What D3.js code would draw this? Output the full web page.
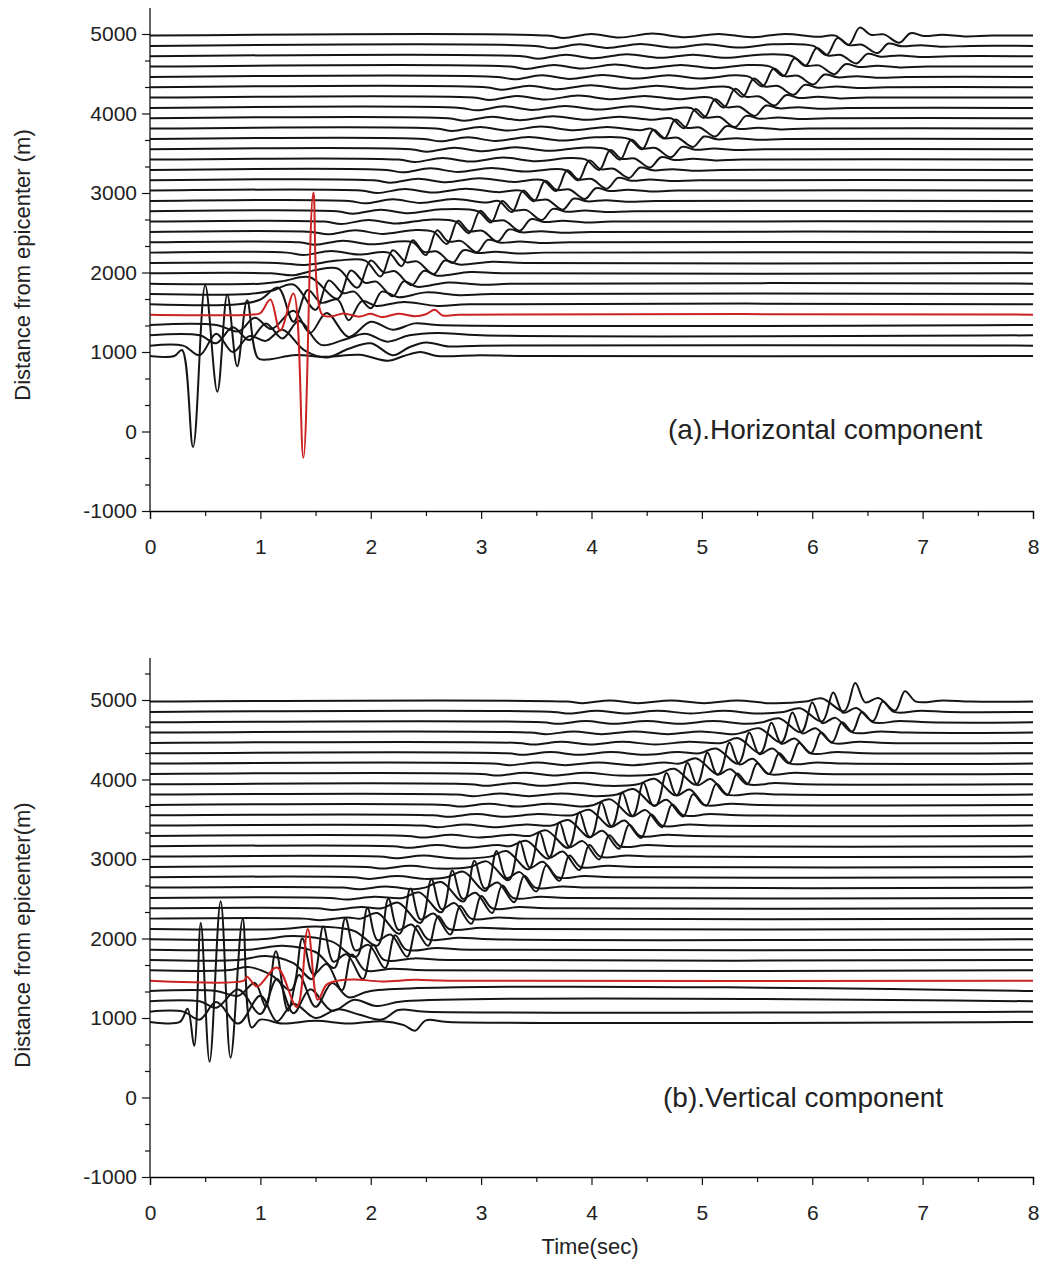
<!DOCTYPE html>
<html>
<head>
<meta charset="utf-8">
<script src="https://cdn.jsdelivr.net/npm/d3@7/dist/d3.min.js"></script>
<style>
  body { margin: 0; background: #fff; }
  svg text { font-family: "Liberation Sans", Arial, sans-serif; fill: #222; }
</style>
</head>
<body>
<svg id="chart" width="1043" height="1270"></svg>
<script>
// station offsets (m), one trace each, bottom to top
const distances = [950, 1080, 1210, 1340, 1470, 1600, 1730, 1860, 1990, 2120, 2250, 2380, 2510, 2640, 2770, 2900,
    3030, 3160, 3290, 3420, 3550, 3680, 3810, 3940, 4070, 4200, 4330, 4460, 4590, 4720, 4850, 4980];
const redTrace = 4;
const timeTicks = [0, 1, 2, 3, 4, 5, 6, 7, 8];
const distTicks = [-1000, 0, 1000, 2000, 3000, 4000, 5000];

// (a) horizontal component: [time, amplitude in m, time, amplitude, ...] per trace
const horizTraces = [
    [0,0, 0.22,0, 0.29,75, 0.39,-1145, 0.50,890, 0.61,-450, 0.70,770, 0.79,-130, 0.88,700, 0.98,-30, 1.09,-40, 1.3,10, 1.6,-10, 1.9,15, 2.16,-60, 2.3,0, 2.45,50, 2.6,0, 3.0,10, 3.4,0, 8,0],
    [0,0, 0.3,0, 0.45,-120, 0.6,150, 0.75,-80, 0.9,120, 1.05,60, 1.2,200, 1.4,-60, 1.6,-150, 1.8,-40, 2.0,30, 2.2,-120, 2.35,-20, 2.5,40, 2.7,-10, 3.0,0, 8,0],
    [0,0, 0.45,0, 0.6,-100, 0.75,100, 0.9,-60, 1.05,150, 1.2,-40, 1.35,180, 1.55,-120, 1.75,-60, 1.95,20, 2.15,-80, 2.35,0, 2.6,30, 3.0,0, 8,0],
    [0,0, 0.6,0, 0.8,-80, 0.95,90, 1.1,-50, 1.3,180, 1.45,-100, 1.6,150, 1.8,-150, 2.0,40, 2.2,-60, 2.4,20, 2.6,0, 8,0],
    [0,0, 0.9,0, 1.0,20, 1.09,190, 1.18,-200, 1.30,265, 1.39,-1800, 1.48,1535, 1.56,0, 1.65,-20, 1.75,15, 1.9,-25, 2.0,10, 2.1,-30, 2.25,10, 2.4,-20, 2.5,5, 2.58,60, 2.65,-10, 2.8,0, 8,0],
    [0,0, 0.8,0, 1.0,60, 1.16,210, 1.3,-220, 1.43,180, 1.55,20, 1.7,60, 1.8,-200, 1.92,40, 2.05,-20, 2.3,30, 2.6,-20, 2.9,0, 8,0],
    [0,0, 0.9,0, 1.1,40, 1.3,120, 1.5,-200, 1.62,170, 1.75,10, 1.85,30, 2.0,-180, 2.1,30, 2.25,-40, 2.5,20, 2.8,-15, 3.1,0, 8,0],
    [0,0, 1.0,0, 1.2,30, 1.45,80, 1.7,-190, 1.82,165, 1.95,10, 2.05,25, 2.2,-160, 2.3,30, 2.42,-40, 2.7,15, 3.0,-15, 3.3,0, 8,0],
    [0,0, 1.1,0, 1.3,-25, 1.5,40, 1.7,60, 1.88,-180, 2.0,160, 2.12,10, 2.22,25, 2.37,-150, 2.48,30, 2.6,-30, 2.9,15, 3.2,0, 8,0],
    [0,0, 1.15,0, 1.4,-25, 1.7,30, 1.95,30, 2.09,-170, 2.2,160, 2.32,10, 2.42,20, 2.57,-140, 2.67,30, 2.8,-20, 3.1,15, 3.4,0, 8,0],
    [0,0, 1.24,0, 1.39,-30, 1.64,20, 1.89,-25, 2.16,0, 2.28,-170, 2.38,155, 2.48,10, 2.60,15, 2.74,-130, 2.84,30, 2.96,-5, 3.13,10, 3.33,-10, 3.58,0, 8,0],
    [0,0, 1.35,0, 1.50,-30, 1.75,20, 2.00,-25, 2.38,0, 2.50,-160, 2.60,150, 2.70,10, 2.82,15, 2.96,-125, 3.06,30, 3.18,-5, 3.35,10, 3.55,-10, 3.80,0, 8,0],
    [0,0, 1.46,0, 1.61,-30, 1.86,20, 2.11,-25, 2.41,25, 2.57,0, 2.69,-150, 2.79,140, 2.89,10, 3.01,15, 3.15,-120, 3.25,30, 3.37,-5, 3.54,10, 3.74,-10, 3.99,0, 8,0],
    [0,0, 1.58,0, 1.73,-30, 1.98,20, 2.23,-25, 2.53,25, 2.77,0, 2.89,-145, 2.99,135, 3.09,10, 3.21,15, 3.35,-115, 3.45,30, 3.57,-5, 3.74,10, 3.94,-10, 4.19,0, 8,0],
    [0,0, 1.69,0, 1.84,-30, 2.09,20, 2.34,-25, 2.64,25, 2.97,0, 3.09,-140, 3.19,130, 3.29,10, 3.41,15, 3.55,-110, 3.65,30, 3.77,-5, 3.94,10, 4.14,-10, 4.39,0, 8,0],
    [0,0, 1.80,0, 1.95,-30, 2.20,20, 2.45,-25, 2.75,25, 3.05,-20, 3.16,0, 3.28,-140, 3.38,130, 3.48,10, 3.60,15, 3.74,-110, 3.84,30, 3.96,-5, 4.13,10, 4.33,-10, 4.58,0, 8,0],
    [0,0, 1.91,0, 2.06,-30, 2.31,20, 2.56,-25, 2.86,25, 3.16,-20, 3.36,0, 3.48,-135, 3.58,125, 3.68,10, 3.80,15, 3.94,-105, 4.04,30, 4.16,-5, 4.33,10, 4.53,-10, 4.78,0, 8,0],
    [0,0, 2.03,0, 2.18,-30, 2.43,20, 2.68,-25, 2.98,25, 3.28,-20, 3.56,0, 3.68,-135, 3.78,125, 3.88,10, 4.00,15, 4.14,-105, 4.24,30, 4.36,-5, 4.53,10, 4.73,-10, 4.98,0, 8,0],
    [0,0, 2.14,0, 2.29,-30, 2.54,20, 2.79,-25, 3.09,25, 3.39,-20, 3.76,0, 3.88,-130, 3.98,120, 4.08,10, 4.20,15, 4.34,-100, 4.44,30, 4.56,-5, 4.73,10, 4.93,-10, 5.18,0, 8,0],
    [0,0, 2.25,0, 2.40,-30, 2.65,20, 2.90,-25, 3.20,25, 3.50,-20, 3.80,20, 3.95,0, 4.07,-130, 4.17,120, 4.27,10, 4.39,15, 4.53,-100, 4.63,30, 4.75,-5, 4.92,10, 5.12,-10, 5.37,0, 8,0],
    [0,0, 2.36,0, 2.51,-30, 2.76,20, 3.01,-25, 3.31,25, 3.61,-20, 3.91,20, 4.14,0, 4.26,-130, 4.36,120, 4.46,10, 4.58,15, 4.72,-100, 4.82,30, 4.94,-5, 5.11,10, 5.31,-10, 5.56,0, 8,0],
    [0,0, 2.48,0, 2.63,-30, 2.88,20, 3.13,-25, 3.43,25, 3.73,-20, 4.03,20, 4.34,0, 4.46,-130, 4.56,115, 4.66,10, 4.78,15, 4.92,-100, 5.02,30, 5.14,-5, 5.31,10, 5.51,-10, 5.76,0, 8,0],
    [0,0, 2.59,0, 2.74,-30, 2.99,20, 3.24,-25, 3.54,25, 3.84,-20, 4.14,20, 4.44,-20, 4.54,0, 4.66,-125, 4.76,115, 4.86,10, 4.98,15, 5.12,-100, 5.22,30, 5.34,-5, 5.51,10, 5.71,-10, 5.96,0, 8,0],
    [0,0, 2.70,0, 2.85,-30, 3.10,20, 3.35,-25, 3.65,25, 3.95,-20, 4.25,20, 4.55,-20, 4.72,0, 4.84,-125, 4.94,115, 5.04,10, 5.16,15, 5.30,-110, 5.40,30, 5.52,-5, 5.69,10, 5.89,-10, 6.14,0, 8,0],
    [0,0, 2.81,0, 2.96,-30, 3.21,20, 3.46,-25, 3.76,25, 4.06,-20, 4.36,20, 4.66,-20, 4.90,0, 5.02,-125, 5.12,110, 5.22,10, 5.34,15, 5.48,-100, 5.58,30, 5.70,-5, 5.87,10, 6.07,-10, 6.32,0, 8,0],
    [0,0, 2.93,0, 3.08,-30, 3.33,20, 3.58,-25, 3.88,25, 4.18,-20, 4.48,20, 4.78,-20, 5.08,0, 5.20,-125, 5.30,110, 5.40,10, 5.52,15, 5.66,-100, 5.76,30, 5.88,-5, 6.05,10, 6.25,-10, 6.50,0, 8,0],
    [0,0, 3.04,0, 3.19,-30, 3.44,20, 3.69,-25, 3.99,25, 4.29,-20, 4.59,20, 4.89,-20, 5.25,0, 5.37,-120, 5.47,110, 5.57,10, 5.69,15, 5.83,-95, 5.93,30, 6.05,-5, 6.22,10, 6.42,-10, 6.67,0, 8,0],
    [0,0, 3.15,0, 3.30,-30, 3.55,20, 3.80,-25, 4.10,25, 4.40,-20, 4.70,20, 5.00,-20, 5.30,20, 5.43,0, 5.55,-120, 5.65,105, 5.75,10, 5.87,15, 6.01,-95, 6.11,30, 6.23,-5, 6.40,10, 6.60,-10, 6.85,0, 8,0],
    [0,0, 3.26,0, 3.41,-30, 3.66,20, 3.91,-25, 4.21,25, 4.51,-20, 4.81,20, 5.11,-20, 5.41,20, 5.62,0, 5.74,-120, 5.84,105, 5.94,10, 6.06,15, 6.20,-95, 6.30,30, 6.42,-5, 6.59,10, 6.79,-10, 7.04,0, 8,0],
    [0,0, 3.37,0, 3.52,-30, 3.77,20, 4.02,-25, 4.32,25, 4.62,-20, 4.92,20, 5.22,-20, 5.52,20, 5.82,0, 5.94,-120, 6.04,105, 6.14,10, 6.26,15, 6.40,-90, 6.50,30, 6.62,-5, 6.79,10, 6.99,-10, 7.24,0, 8,0],
    [0,0, 3.49,0, 3.64,-30, 3.89,20, 4.14,-25, 4.44,25, 4.74,-20, 5.04,20, 5.34,-20, 5.64,20, 6.01,0, 6.13,-115, 6.23,100, 6.33,10, 6.45,15, 6.59,-90, 6.69,30, 6.81,-5, 6.98,10, 7.18,-10, 7.43,0, 8,0],
    [0,0, 3.60,0, 3.75,-30, 4.00,20, 4.25,-25, 4.55,25, 4.85,-20, 5.15,20, 5.45,-20, 5.75,20, 6.05,-15, 6.21,0, 6.33,-115, 6.43,100, 6.53,10, 6.65,15, 6.79,-90, 6.89,30, 7.01,-5, 7.18,10, 7.38,-10, 7.63,0, 8,0]
];

// (b) vertical component
const vertTraces = [
    [0,0, 0.27,0, 0.34,165, 0.40,-300, 0.46,1245, 0.54,-500, 0.64,1520, 0.73,-450, 0.84,1300, 0.92,-70, 1.0,30, 1.2,-20, 1.5,15, 1.8,-20, 2.1,10, 2.3,-40, 2.4,-110, 2.5,20, 2.7,0, 8,0],
    [0,0, 0.3,0, 0.45,-100, 0.6,120, 0.8,-150, 1.0,200, 1.15,-120, 1.3,100, 1.5,-80, 1.7,30, 1.9,-40, 2.1,-100, 2.25,20, 2.5,0, 8,0],
    [0,0, 0.45,0, 0.6,-80, 0.8,150, 1.0,-160, 1.15,280, 1.3,-150, 1.45,150, 1.65,-120, 1.85,20, 2.05,-60, 2.3,0, 8,0],
    [0,0, 0.6,0, 0.8,-60, 0.95,100, 1.05,-200, 1.14,500, 1.25,-250, 1.35,200, 1.5,-200, 1.65,100, 1.8,-80, 2.0,0, 8,0],
    [0,0, 0.85,0, 0.88,50, 0.97,-75, 1.15,165, 1.33,-330, 1.43,650, 1.52,-240, 1.60,-50, 1.7,0, 1.85,15, 2.1,-10, 2.4,10, 2.7,0, 8,0],
    [0,0, 0.7,0, 0.9,40, 1.1,-60, 1.28,-250, 1.38,400, 1.48,-50, 1.6,80, 1.74,-250, 1.83,200, 1.95,0, 2.2,20, 2.5,0, 8,0],
    [0,0, 0.8,0, 1.05,50, 1.3,-40, 1.47,-240, 1.57,420, 1.66,-20, 1.78,70, 1.93,-240, 2.02,190, 2.12,0, 2.4,20, 2.7,0, 8,0],
    [0,0, 0.9,0, 1.2,50, 1.5,-30, 1.67,-230, 1.77,395, 1.86,-10, 1.98,60, 2.13,-230, 2.22,180, 2.32,0, 2.6,20, 2.9,0, 8,0],
    [0,0, 1.0,0, 1.3,40, 1.65,-30, 1.87,-220, 1.97,390, 2.06,-10, 2.18,60, 2.33,-220, 2.42,170, 2.52,0, 2.8,20, 3.1,0, 8,0],
    [0,0, 1.2,0, 1.5,30, 1.85,-25, 2.06,-210, 2.16,380, 2.25,-10, 2.37,55, 2.52,-210, 2.61,160, 2.71,0, 3.0,15, 3.3,0, 8,0],
    [0,0, 1.39,0, 1.54,-20, 1.79,15, 1.91,0, 2.06,70, 2.26,-190, 2.36,380, 2.45,-10, 2.57,65, 2.72,-200, 2.81,160, 2.91,0, 3.16,15, 3.41,0, 8,0],
    [0,0, 1.51,0, 1.66,-20, 1.91,15, 2.10,0, 2.25,70, 2.45,-185, 2.55,365, 2.64,-10, 2.76,65, 2.91,-195, 3.00,155, 3.10,0, 3.35,15, 3.60,0, 8,0],
    [0,0, 1.63,0, 1.78,-20, 2.03,15, 2.29,0, 2.44,70, 2.64,-180, 2.74,345, 2.83,-10, 2.95,65, 3.10,-190, 3.19,155, 3.29,0, 3.54,15, 3.79,0, 8,0],
    [0,0, 1.74,0, 1.89,-20, 2.14,15, 2.39,-20, 2.49,0, 2.64,70, 2.84,-175, 2.94,338, 3.03,-10, 3.15,65, 3.30,-185, 3.39,150, 3.49,0, 3.74,15, 3.99,0, 8,0],
    [0,0, 1.84,0, 1.99,-20, 2.24,15, 2.49,-20, 2.69,0, 2.84,70, 3.04,-170, 3.14,330, 3.23,-10, 3.35,65, 3.50,-180, 3.59,150, 3.69,0, 3.94,15, 4.19,0, 8,0],
    [0,0, 1.96,0, 2.11,-20, 2.36,15, 2.61,-20, 2.90,0, 3.05,70, 3.25,-165, 3.35,320, 3.44,-10, 3.56,65, 3.71,-175, 3.80,145, 3.90,0, 4.15,15, 4.40,0, 8,0],
    [0,0, 2.08,0, 2.23,-20, 2.48,15, 2.73,-20, 3.08,0, 3.23,70, 3.43,-160, 3.53,305, 3.62,-10, 3.74,65, 3.89,-170, 3.98,145, 4.08,0, 4.33,15, 4.58,0, 8,0],
    [0,0, 2.20,0, 2.35,-20, 2.60,15, 2.85,-20, 3.15,15, 3.26,0, 3.41,70, 3.61,-155, 3.71,300, 3.80,-10, 3.92,65, 4.07,-165, 4.16,140, 4.26,0, 4.51,15, 4.76,0, 8,0],
    [0,0, 2.33,0, 2.48,-20, 2.73,15, 2.98,-20, 3.28,15, 3.44,0, 3.59,70, 3.79,-150, 3.89,295, 3.98,-10, 4.10,65, 4.25,-160, 4.34,140, 4.44,0, 4.69,15, 4.94,0, 8,0],
    [0,0, 2.46,0, 2.61,-20, 2.86,15, 3.11,-20, 3.41,15, 3.64,0, 3.79,70, 3.99,-148, 4.09,290, 4.18,-10, 4.30,65, 4.45,-155, 4.54,140, 4.64,0, 4.89,15, 5.14,0, 8,0],
    [0,0, 2.56,0, 2.71,-20, 2.96,15, 3.21,-20, 3.51,15, 3.83,0, 3.98,70, 4.18,-145, 4.28,283, 4.37,-10, 4.49,65, 4.64,-150, 4.73,135, 4.83,0, 5.08,15, 5.33,0, 8,0],
    [0,0, 2.67,0, 2.82,-20, 3.07,15, 3.32,-20, 3.62,15, 3.92,-20, 4.02,0, 4.17,70, 4.37,-142, 4.47,278, 4.56,-10, 4.68,65, 4.83,-145, 4.92,135, 5.02,0, 5.27,15, 5.52,0, 8,0],
    [0,0, 2.78,0, 2.93,-20, 3.18,15, 3.43,-20, 3.73,15, 4.03,-20, 4.23,0, 4.38,70, 4.58,-140, 4.68,272, 4.77,-10, 4.89,65, 5.04,-140, 5.13,135, 5.23,0, 5.48,15, 5.73,0, 8,0],
    [0,0, 2.90,0, 3.05,-20, 3.30,15, 3.55,-20, 3.85,15, 4.15,-20, 4.42,0, 4.57,70, 4.77,-138, 4.87,268, 4.96,-10, 5.08,65, 5.23,-135, 5.32,135, 5.42,0, 5.67,15, 5.92,0, 8,0],
    [0,0, 3.00,0, 3.15,-20, 3.40,15, 3.65,-20, 3.95,15, 4.25,-20, 4.60,0, 4.75,65, 4.95,-135, 5.05,265, 5.14,-10, 5.26,60, 5.41,-130, 5.50,130, 5.60,0, 5.85,15, 6.10,0, 8,0],
    [0,0, 3.11,0, 3.26,-20, 3.51,15, 3.76,-20, 4.06,15, 4.36,-20, 4.66,15, 4.80,0, 4.95,65, 5.15,-133, 5.25,262, 5.34,-10, 5.46,60, 5.61,-130, 5.70,130, 5.80,0, 6.05,15, 6.30,0, 8,0],
    [0,0, 3.23,0, 3.38,-20, 3.63,15, 3.88,-20, 4.18,15, 4.48,-20, 4.78,15, 4.98,0, 5.13,60, 5.33,-130, 5.43,258, 5.52,-10, 5.64,60, 5.79,-125, 5.88,130, 5.98,0, 6.23,15, 6.48,0, 8,0],
    [0,0, 3.33,0, 3.48,-20, 3.73,15, 3.98,-20, 4.28,15, 4.58,-20, 4.88,15, 5.18,0, 5.33,60, 5.53,-128, 5.63,255, 5.72,-10, 5.84,55, 5.99,-125, 6.08,130, 6.18,0, 6.43,15, 6.68,0, 8,0],
    [0,0, 3.44,0, 3.59,-20, 3.84,15, 4.09,-20, 4.39,15, 4.69,-20, 4.99,15, 5.29,-20, 5.37,0, 5.52,55, 5.72,-125, 5.82,252, 5.91,-10, 6.03,55, 6.18,-120, 6.27,130, 6.37,0, 6.62,15, 6.87,0, 8,0],
    [0,0, 3.55,0, 3.70,-20, 3.95,15, 4.20,-20, 4.50,15, 4.80,-20, 5.10,15, 5.40,-20, 5.55,0, 5.70,50, 5.90,-125, 6.00,250, 6.09,-10, 6.21,55, 6.36,-120, 6.45,130, 6.55,0, 6.80,15, 7.05,0, 8,0],
    [0,0, 3.65,0, 3.80,-20, 4.05,15, 4.30,-20, 4.60,15, 4.90,-20, 5.20,15, 5.50,-20, 5.74,0, 5.89,45, 6.09,-120, 6.19,245, 6.28,-10, 6.40,50, 6.55,-115, 6.64,130, 6.74,0, 6.99,15, 7.24,0, 8,0],
    [0,0, 3.77,0, 3.92,-20, 4.17,15, 4.42,-20, 4.72,15, 5.02,-20, 5.32,15, 5.62,-20, 5.94,0, 6.09,40, 6.29,-120, 6.39,235, 6.48,-10, 6.60,45, 6.75,-115, 6.84,130, 6.94,0, 7.19,15, 7.44,0, 8,0]
];

const panels = [
    { traces: horizTraces, top: 8, y5000: 34, yMin: 511, titleY: 265, yTitle: "Distance from epicenter (m)",
      note: "(a).Horizontal component", noteX: 668, noteY: 439 },
    { traces: vertTraces, top: 658, y5000: 700, yMin: 1177, titleY: 935, yTitle: "Distance from epicenter(m)",
      note: "(b).Vertical component", noteX: 663, noteY: 1107 }
];

const svg = d3.select("#chart");
const left = 150, right = 1033;

const x = d3.scaleLinear().domain([0, 8]).range([left, right]);

/**
 * Draws one record section (axes, traces, labels).
 */
function drawPanel(p) {
    var y = d3.scaleLinear().domain([-1000, 5000]).range([p.yMin, p.y5000]);
    var g = svg.append("g");

    // traces: baseline at the station offset, amplitude added on top
    var line = d3.line()
        .x(d => x(d[0]))
        .y(d => y(d[1]))
        .curve(d3.curveCatmullRom.alpha(0.5));

    var order = d3.range(distances.length).filter(i => i !== redTrace).concat([redTrace]);
    order.forEach(i => {
        var arr = p.traces[i], pts = [];
        for (var j = 0; j < arr.length; j += 2) pts.push([arr[j], distances[i] + arr[j + 1]]);
        g.append("path")
            .attr("d", line(pts))
            .attr("fill", "none")
            .attr("stroke", i === redTrace ? "#cc2222" : "#151515")
            .attr("stroke-width", 2)
            .attr("stroke-linejoin", "round");
    });

    // y axis: majors every 1000, two minor ticks between
    var yTop = y.invert(p.top);
    var minor = d3.range(-1000, yTop + 1, 1000 / 3).filter(v => Math.abs(v / 1000 - Math.round(v / 1000)) > 0.01);
    var ya = g.append("g").attr("transform", `translate(${left},0)`);
    ya.call(d3.axisLeft(y).tickValues(distTicks).tickSize(8).tickPadding(5).tickFormat(d => String(d)));
    ya.append("g").call(d3.axisLeft(y).tickValues(minor).tickSize(5).tickFormat(""));
    ya.selectAll(".domain").remove();
    g.append("line").attr("x1", left).attr("x2", left).attr("y1", p.top).attr("y2", p.yMin)
        .attr("stroke", "#111").attr("stroke-width", 1.3);

    // x axis
    var xa = g.append("g").attr("transform", `translate(0,${p.yMin})`);
    xa.call(d3.axisBottom(x).tickValues(timeTicks).tickSize(8).tickPadding(20).tickFormat(d => String(d)));
    xa.append("g").call(d3.axisBottom(x).tickValues(d3.range(0.5, 8, 1)).tickSize(5).tickFormat(""));
    xa.select(".domain").attr("stroke", "#111").attr("stroke-width", 1.3);

    g.selectAll(".tick line").attr("stroke", "#111").attr("stroke-width", 1.2);
    g.selectAll(".tick text").attr("font-size", 21).attr("fill", "#222");

    // y title
    g.append("text")
        .attr("transform", `translate(30,${p.titleY}) rotate(-90)`)
        .attr("text-anchor", "middle")
        .attr("font-size", 22)
        .text(p.yTitle);

    g.append("text")
        .attr("x", p.noteX).attr("y", p.noteY)
        .attr("font-size", 28)
        .text(p.note);
}

panels.forEach(drawPanel);

svg.append("text")
    .attr("x", 590).attr("y", 1254)
    .attr("text-anchor", "middle")
    .attr("font-size", 22)
    .text("Time(sec)");
</script>
</body>
</html>
